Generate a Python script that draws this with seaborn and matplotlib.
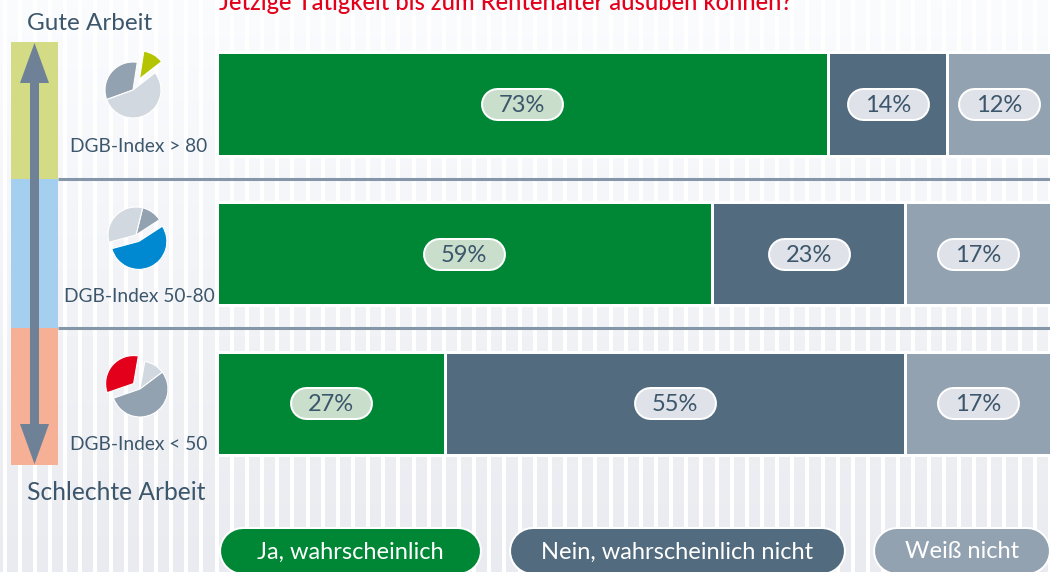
import numpy as np
import pandas as pd
import matplotlib
matplotlib.use('Agg')
import matplotlib.pyplot as plt
from matplotlib.patches import Polygon, Rectangle
import seaborn as sns

# chart values
groups = ['DGB-Index > 80', 'DGB-Index 50-80', 'DGB-Index < 50']
ja = [72.8, 59, 27.2]
nein = [14.2, 23, 54.8]
weiss = [12.4, 17.4, 17.4]
bar_labels = [['73%', '14%', '12%'], ['59%', '23%', '17%'], ['27%', '55%', '17%']]
legend_labels = ['Ja, wahrscheinlich', 'Nein, wahrscheinlich nicht', 'Weiß nicht']
title = 'Jetzige Tätigkeit bis zum Rentenalter ausüben können?'

# share of the three work groups, shown in the small pies
pie_values = [12, 33, 55]

GREEN = '#008735'
SLATE = '#526b7e'
GREY = '#93a2b0'
TEXT = '#3c566b'
W, H = 1050, 572
PX = 0.72  # points per pixel at dpi 100

sns.set_theme(style='white')
plt.rcParams['font.family'] = ['Lato', 'DejaVu Sans']

df = pd.DataFrame({'group': groups, 'ja': ja, 'nein': nein, 'weiss': weiss})

fig = plt.figure(figsize=(W / 100, H / 100), dpi=100)

# striped background with a slight top to bottom gradient
bg = fig.add_axes([0, 0, 1, 1], zorder=0)
grad = np.linspace(0, 1, 256).reshape(-1, 1)
cmap = matplotlib.colors.LinearSegmentedColormap.from_list('bg', ['#fbfcfe', '#e9ebf0'])
bg.imshow(grad, cmap=cmap, extent=[0, W, H, 0], aspect='auto')
bg.vlines(np.arange(4.5, W, 15.15), 0, H, color='white', lw=2.9)
bg.set_xlim(0, W)
bg.set_ylim(H, 0)
bg.axis('off')

# stacked bars
ax = fig.add_axes([216.5 / W, 0, 833.5 / W, 1], zorder=1)
ax.patch.set_alpha(0)
lefts = [np.zeros(3), df['ja'].values, (df['ja'] + df['nein']).values]
for col, left, color in zip(['ja', 'nein', 'weiss'], lefts, [GREEN, SLATE, GREY]):
    sns.barplot(data=df, y='group', x=col, left=left, color=color, saturation=1, width=0.688,
                edgecolor='white', linewidth=2.16, errorbar=None, ax=ax)
ax.set_xlim(0, 833.5 / 8.4)
ax.set_ylim((H - 104) / 149.75, -104 / 149.75)
ax.axis('off')

# everything else is placed in pixel coordinates
top = fig.add_axes([0, 0, 1, 1], zorder=2)
top.patch.set_alpha(0)
top.set_xlim(0, W)
top.set_ylim(H, 0)
top.axis('off')


def pill(x0, x1, y, height, color):
    # round capped lines give properly round pill ends
    top.plot([x0, x1], [y, y], color='white', lw=height * PX, solid_capstyle='round')
    top.plot([x0, x1], [y, y], color=color, lw=(height - 4) * PX, solid_capstyle='round')


# coloured band on the left with double arrow
for y0, y1, c in [(42, 179, '#d3dc84'), (179, 328, '#a5cfee'), (328, 465, '#f5b096')]:
    top.add_patch(Rectangle((11, y0), 47, y1 - y0, color=c, lw=0))
top.add_patch(Polygon([(34.5, 43), (49, 83), (39, 83), (39, 424), (49, 424), (34.5, 464),
                       (20, 424), (30, 424), (30, 83), (20, 83)], closed=True, color='#6e8196', lw=0))
for y in [179, 328]:
    top.plot([58, W], [y, y], color='#8496a8', lw=2.2, solid_capstyle='butt')

top.text(90, 24, 'Gute Arbeit', color=TEXT, fontsize=17.5, ha='center', va='center')
top.text(116, 493, 'Schlechte Arbeit', color=TEXT, fontsize=17.7, ha='center', va='center')
top.text(219, 10.5, title, color='#e2001a', fontsize=17.1, ha='left', va='baseline', weight='medium')

for i, g in enumerate(groups):
    top.text(139, [147, 297, 445][i], g, color=TEXT, fontsize=13.8, ha='center', va='center')

# pills on the bars
fig.canvas.draw()
for i in range(3):
    ends = [0, ja[i], ja[i] + nein[i], ja[i] + nein[i] + weiss[i]]
    for k in range(3):
        mid = (ends[k] + ends[k + 1]) / 2
        px, py = ax.transData.transform((mid, i))
        py = H - py
        pill(px - 25, px + 25, py, 33, '#c9dfcc' if k == 0 else '#dfe2e9')
        top.text(px, py + 1.5, bar_labels[i][k], color=TEXT, fontsize=17, ha='center', va='center')

# legend pills, cut by the lower edge
for label, (x0, x1), c in zip(legend_labels, [(221, 480), (511, 844), (875, 1049)], [GREEN, SLATE, GREY]):
    pill(x0 + 22, x1 - 22, 551, 48, c)
    top.text((x0 + x1) / 2, 552, label, color='white', fontsize=17, ha='center', va='center')

# small pies
pie_setup = [
    ((133, 90), 38, ['#b5c400', GREY, '#d2d8e0'], [0.46, 0, 0]),
    ((136, 235), 33, [GREY, '#d2d8e0', '#0088d0'], [0, 0, 0.25]),
    ((140, 389), 37, ['#d2d8e0', '#e2001a', GREY], [0, 0.3, 0]),
]
R = 28
for (cx, cy), start, cols, expl in pie_setup:
    s = 2 * R * 1.8
    pa = fig.add_axes([(cx - s / 2) / W, (H - cy - s / 2) / H, s / W, s / H], zorder=3)
    pa.pie(pie_values, colors=cols, explode=expl, startangle=start, radius=1, frame=True,
           wedgeprops={'edgecolor': 'white', 'linewidth': 0.8})
    pa.set_xlim(-1.8, 1.8)
    pa.set_ylim(-1.8, 1.8)
    pa.axis('off')

fig.savefig('out.png', dpi=100)
